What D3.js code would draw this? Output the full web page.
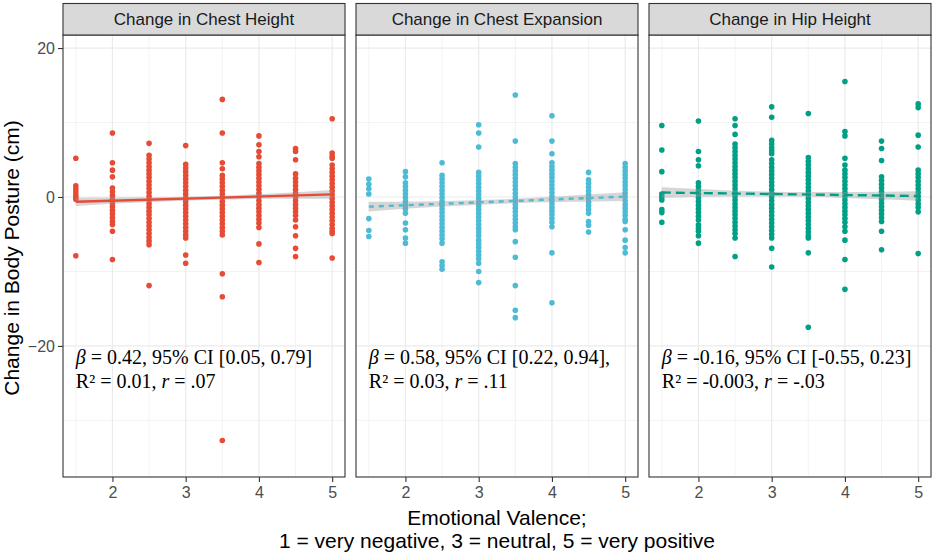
<!DOCTYPE html>
<html>
<head>
<meta charset="utf-8">
<title>Change in Body Posture by Emotional Valence</title>
<script src="https://cdn.jsdelivr.net/npm/d3@7"></script>
<style>
  body { margin: 0; background: #fff; }
  text { font-family: "Liberation Sans", Arial, Helvetica, sans-serif; }
</style>
</head>
<body>
<script>
// facet titles
var panelTitles = ["Change in Chest Height", "Change in Chest Expansion", "Change in Hip Height"];
var colors = ["#E64B35", "#4DBBD5", "#00A087"];

// valence levels (x positions of the point columns)
var valence = [1.5, 2, 2.5, 3, 3.5, 4, 4.5, 5];

// change values, one list per valence level
var chestHeight = [
  [5.2, 1.5, 1.1, 0.7, 0.3, 0.0, -0.3, -7.9],
  [8.6, 4.6, 3.6, 2.7, 1.2, 0.7, 0.2, -0.3, -0.8, -1.3, -1.8, -2.3, -2.8, -3.3, -3.7, -4.6, -8.4],
  [7.2, 5.6, 5.1, 4.6, 4.1, 3.6, 3.1, 2.6, 2.1, 1.6, 1.1, 0.6, 0.1, -0.4, -0.9, -1.4, -1.9, -2.4, -2.9, -3.4, -3.9, -4.4, -4.9, -5.4, -5.9, -6.4, -11.9],
  [6.9, 4.4, 3.9, 3.4, 2.9, 2.4, 1.9, 1.4, 0.9, 0.4, -0.1, -0.6, -1.1, -1.6, -2.1, -2.6, -3.1, -3.6, -4.1, -4.6, -5.1, -5.5, -7.8, -8.9],
  [13.1, 8.6, 4.6, 3.8, 2.9, 2.4, 1.9, 1.4, 0.9, 0.4, -0.1, -0.6, -1.1, -1.6, -2.1, -2.6, -3.1, -3.6, -4.1, -4.6, -5.1, -10.3, -13.4, -32.7],
  [8.2, 7.0, 6.1, 5.4, 4.5, 4.0, 3.5, 3.0, 2.5, 2.0, 1.5, 1.0, 0.5, 0.0, -0.5, -1.0, -1.5, -2.0, -2.5, -3.0, -3.5, -4.1, -6.3, -8.8],
  [6.5, 6.1, 5.0, 3.1, 2.5, 2.0, 1.5, 1.0, 0.5, 0.0, -0.5, -1.0, -1.5, -2.0, -2.5, -3.1, -4.0, -5.2, -6.9, -8.0],
  [10.5, 5.9, 5.5, 5.2, 4.3, 3.8, 3.3, 2.8, 2.3, 1.8, 1.3, 0.8, 0.3, -0.2, -0.7, -1.2, -1.7, -2.2, -2.7, -3.2, -3.7, -4.2, -4.6, -4.9, -8.2]
];
var chestExpansion = [
  [2.4, 1.7, 1.1, 0.4, -2.9, -4.5, -5.3],
  [3.4, 2.7, 1.9, 1.4, 0.9, 0.4, -0.1, -0.6, -1.1, -1.6, -2.2, -3.5, -4.4, -5.5, -6.2],
  [4.6, 2.9, 2.4, 1.9, 1.4, 0.9, 0.4, -0.1, -0.6, -1.1, -1.6, -2.1, -2.6, -3.1, -3.6, -4.1, -4.6, -5.1, -5.6, -6.2, -8.7, -9.2, -9.7],
  [9.7, 8.6, 6.7, 3.3, 2.8, 2.3, 1.8, 1.3, 0.8, 0.3, -0.2, -0.7, -1.2, -1.7, -2.2, -2.7, -3.2, -3.7, -4.2, -4.7, -5.2, -5.8, -6.3, -6.8, -7.3, -7.8, -8.3, -8.9, -10.0, -11.5],
  [13.7, 7.5, 4.5, 4.0, 3.5, 3.0, 2.5, 2.0, 1.5, 1.0, 0.5, 0.0, -0.5, -1.0, -1.5, -2.0, -2.5, -3.0, -3.5, -4.0, -4.4, -6.0, -8.1, -11.9, -15.2, -16.2],
  [10.9, 7.5, 5.8, 4.6, 4.1, 3.6, 3.1, 2.6, 2.1, 1.6, 1.1, 0.6, 0.1, -0.4, -0.9, -1.4, -1.9, -2.4, -2.9, -3.4, -4.0, -7.5, -14.2],
  [3.3, 2.3, 1.8, 1.3, 0.8, 0.3, -0.2, -0.7, -1.2, -1.7, -2.2, -3.3, -3.8, -4.7],
  [4.5, 4.0, 3.5, 3.0, 2.5, 2.0, 1.5, 1.0, 0.5, 0.0, -0.5, -1.0, -1.5, -2.0, -2.5, -3.0, -3.3, -4.4, -5.8, -6.8, -7.5]
];
var hipHeight = [
  [9.6, 6.3, 3.4, 0.4, 0.0, -0.4, -1.7, -2.1, -3.4],
  [10.2, 6.1, 5.0, 4.2, 1.9, 1.4, 0.9, 0.4, -0.1, -0.6, -1.1, -1.6, -2.1, -2.6, -3.1, -3.75, -4.2, -4.6, -5.2, -6.2],
  [10.5, 9.6, 8.4, 7.1, 6.6, 6.1, 5.6, 5.1, 4.6, 4.1, 3.6, 3.1, 2.6, 2.1, 1.6, 1.1, 0.6, 0.1, -0.4, -0.9, -1.4, -1.9, -2.4, -2.9, -3.4, -3.9, -4.4, -4.9, -5.5, -8.0],
  [12.1, 10.7, 7.6, 7.1, 6.6, 6.2, 5.8, 5.0, 4.5, 4.0, 3.5, 3.0, 2.5, 2.0, 1.5, 1.0, 0.5, 0.0, -0.5, -1.0, -1.5, -2.0, -2.5, -3.0, -3.5, -4.0, -4.5, -5.0, -5.5, -6.9, -9.4],
  [11.2, 5.3, 4.8, 4.3, 3.8, 3.3, 2.8, 2.3, 1.8, 1.3, 0.8, 0.3, -0.2, -0.7, -1.2, -1.7, -2.2, -2.7, -3.2, -3.7, -4.2, -4.7, -5.2, -5.5, -7.5, -17.5],
  [15.5, 8.8, 8.2, 5.2, 4.3, 3.6, 3.1, 2.6, 2.1, 1.6, 1.1, 0.6, 0.1, -0.4, -0.9, -1.4, -1.9, -2.4, -2.9, -3.4, -4.0, -4.6, -5.8, -8.4, -12.4],
  [7.5, 6.5, 4.9, 2.7, 2.2, 1.7, 1.2, 0.7, 0.2, -0.3, -0.8, -1.3, -1.8, -2.3, -2.8, -3.3, -4.6, -7.1],
  [12.5, 12.0, 8.3, 6.7, 3.6, 3.1, 2.6, 2.1, 1.6, 1.1, 0.6, 0.1, -0.4, -0.9, -1.4, -2.0, -7.6]
];

// fitted line (value at x = 1.5 and x = 5) and its confidence band
var fitX = [1.5, 5];
var fitY = [[-0.65, 0.35], [-1.3, 0.05], [0.6, 0.13]];
var bandX = [1.5, 2.375, 3.25, 4.125, 5];
var bandLo = [[-1.2, -0.75, -0.4, -0.25, -0.25], [-1.95, -1.36, -0.93, -0.69, -0.55], [-0.1, 0.06, 0.07, -0.17, -0.52]];
var bandHi = [[-0.1, -0.05, 0.1, 0.45, 0.95], [-0.65, -0.56, -0.33, 0.11, 0.65], [1.3, 0.9, 0.67, 0.67, 0.78]];
var lineDash = [null, "5,5", "9,5"];

// statistics printed in each panel
var betaText = ["0.42", "0.58", "-0.16"];
var ciText = ["[0.05, 0.79]", "[0.22, 0.94],", "[-0.55, 0.23]"];
var r2Text = ["0.01", "0.03", "-0.003"];
var rText = [".07", ".11", "-.03"];

// axes
var xMajor = [2, 3, 4, 5];
var xMinor = [1.5, 2.5, 3.5, 4.5];
var yMajor = [-20, 0, 20];
var yMinor = [-30, -10, 10];

var panelValues = [chestHeight, chestExpansion, hipHeight];

var W = 935, H = 555;
var plotLeft = 63, plotRight = 931, gap = 11;
var stripTop = 3.5, plotTop = 35, plotBottom = 477;
var pw = (plotRight - plotLeft - 2 * gap) / 3;
var ph = plotBottom - plotTop;

var svg = d3.select("body").append("svg").attr("width", W).attr("height", H);

var x = d3.scaleLinear().domain([1.325, 5.175]).range([0, pw]);
var y = d3.scaleLinear().domain([-37.6, 21.75]).range([ph, 0]);

panelTitles.forEach(function(title, p) {
  var px = plotLeft + p * (pw + gap);
  var g = svg.append("g").attr("transform", "translate(" + px + "," + plotTop + ")");

  // grid
  g.selectAll(".ymin").data(yMinor).enter().append("line")
    .attr("x1", 0).attr("x2", pw).attr("y1", y).attr("y2", y)
    .attr("stroke", "#f0f0f0").attr("stroke-width", 0.8);
  g.selectAll(".xmin").data(xMinor).enter().append("line")
    .attr("y1", 0).attr("y2", ph).attr("x1", x).attr("x2", x)
    .attr("stroke", "#f0f0f0").attr("stroke-width", 0.8);
  g.selectAll(".ymaj").data(yMajor).enter().append("line")
    .attr("x1", 0).attr("x2", pw).attr("y1", y).attr("y2", y)
    .attr("stroke", "#ebebeb").attr("stroke-width", 1.2);
  g.selectAll(".xmaj").data(xMajor).enter().append("line")
    .attr("y1", 0).attr("y2", ph).attr("x1", x).attr("x2", x)
    .attr("stroke", "#ebebeb").attr("stroke-width", 1.2);

  // points
  var pts = [];
  panelValues[p].forEach(function(col, i) {
    col.forEach(function(v) { pts.push([valence[i], v]); });
  });
  g.selectAll("circle").data(pts).enter().append("circle")
    .attr("cx", function(d) { return x(d[0]); })
    .attr("cy", function(d) { return y(d[1]); })
    .attr("r", 2.8)
    .attr("fill", colors[p]);

  // confidence band
  var area = d3.area()
    .x(function(d, i) { return x(bandX[i]); })
    .y0(function(d, i) { return y(bandLo[p][i]); })
    .y1(function(d, i) { return y(bandHi[p][i]); })
    .curve(d3.curveMonotoneX);
  g.append("path").datum(bandX).attr("d", area)
    .attr("fill", "#999999").attr("opacity", 0.4);

  // fitted line
  var line = d3.line()
    .x(function(d, i) { return x(fitX[i]); })
    .y(function(d) { return y(d); });
  g.append("path").datum(fitY[p]).attr("d", line)
    .attr("fill", "none").attr("stroke", colors[p]).attr("stroke-width", 2.4)
    .attr("stroke-dasharray", lineDash[p]);

  // stats text
  var t = g.append("text")
    .attr("x", x(1.5)).attr("y", y(-22.4))
    .style("font-family", "'Liberation Serif', 'Times New Roman', serif")
    .style("font-size", "20px").attr("fill", "#000");
  t.append("tspan").style("font-style", "italic").text("β");
  t.append("tspan").text(" = " + betaText[p] + ", 95% CI " + ciText[p]);
  var t2 = g.append("text")
    .attr("x", x(1.5)).attr("y", y(-22.4) + 24)
    .style("font-family", "'Liberation Serif', 'Times New Roman', serif")
    .style("font-size", "20px").attr("fill", "#000");
  t2.append("tspan").text("R² = " + r2Text[p] + ", ");
  t2.append("tspan").style("font-style", "italic").text("r");
  t2.append("tspan").text(" = " + rText[p]);

  // panel border
  g.append("rect").attr("x", 0).attr("y", 0).attr("width", pw).attr("height", ph)
    .attr("fill", "none").attr("stroke", "#333333").attr("stroke-width", 1.1);

  // strip
  svg.append("rect").attr("x", px).attr("y", stripTop).attr("width", pw).attr("height", plotTop - stripTop)
    .attr("fill", "#d9d9d9").attr("stroke", "#333333").attr("stroke-width", 1.1);
  svg.append("text").attr("x", px + pw / 2).attr("y", (stripTop + plotTop) / 2 + 6)
    .attr("text-anchor", "middle").style("font-size", "17px").attr("fill", "#1a1a1a")
    .text(title);

  // x axis
  var xa = g.append("g").attr("transform", "translate(0," + ph + ")")
    .call(d3.axisBottom(x).tickValues(xMajor).tickSize(5).tickPadding(5).tickFormat(d3.format("d")));
  xa.select(".domain").remove();
  xa.selectAll("line").attr("stroke", "#333333").attr("stroke-width", 1.1);
  xa.selectAll("text").style("font-size", "16px").attr("fill", "#4d4d4d")
    .style("font-family", "'Liberation Sans', Arial, sans-serif");

  if (p === 0) {
    var ya = g.append("g")
      .call(d3.axisLeft(y).tickValues(yMajor).tickSize(5).tickPadding(3)
        .tickFormat(function(d) { return d < 0 ? "−" + Math.abs(d) : d; }));
    ya.select(".domain").remove();
    ya.selectAll("line").attr("stroke", "#333333").attr("stroke-width", 1.1);
    ya.selectAll("text").style("font-size", "16px").attr("fill", "#4d4d4d")
      .style("font-family", "'Liberation Sans', Arial, sans-serif");
  }
});

// axis titles
svg.append("text").attr("transform", "translate(19," + ((plotTop + plotBottom) / 2 + 2) + ") rotate(-90)")
  .attr("text-anchor", "middle").style("font-size", "21px").attr("fill", "#000")
  .text("Change in Body Posture (cm)");
svg.append("text").attr("x", (plotLeft + plotRight) / 2).attr("y", 525)
  .attr("text-anchor", "middle").style("font-size", "21px").attr("fill", "#000")
  .text("Emotional Valence;");
svg.append("text").attr("x", (plotLeft + plotRight) / 2).attr("y", 548)
  .attr("text-anchor", "middle").style("font-size", "21px").attr("fill", "#000")
  .text("1 = very negative, 3 = neutral, 5 = very positive");
</script>
</body>
</html>
